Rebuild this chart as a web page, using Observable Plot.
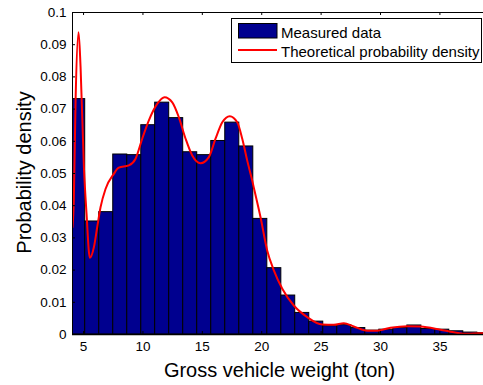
<!DOCTYPE html>
<html>
<head>
<meta charset="utf-8">
<script src="https://cdn.jsdelivr.net/npm/d3@7"></script>
<script src="https://cdn.jsdelivr.net/npm/@observablehq/plot@0.6"></script>
<style>
  html, body { margin: 0; padding: 0; background: #fff; }
  #chart svg { display: block; }
</style>
</head>
<body>
<div id="chart"></div>
<script>
// Histogram bin edges (ton) — 30 bins
const binEdges = [3.96, 5.14, 6.32, 7.50, 8.68, 9.86, 11.03, 12.21, 13.39, 14.57, 15.75,
  16.93, 18.11, 19.29, 20.47, 21.65, 22.82, 24.00, 25.18, 26.36, 27.54, 28.72, 29.90,
  31.08, 32.26, 33.44, 34.61, 35.79, 36.97, 38.15, 39.33];
// Measured probability density per bin
const measuredDensity = [0.0731, 0.0351, 0.0380, 0.0559, 0.0557, 0.0650, 0.0720, 0.0672,
  0.0566, 0.0557, 0.0601, 0.0658, 0.0584, 0.0359, 0.0206, 0.0121, 0.0067, 0.0040, 0.0026,
  0.0029, 0.0020, 0.0012, 0.0015, 0.0020, 0.0028, 0.0017, 0.0015, 0.0010, 0.0006, 0.0004];
// Theoretical probability density curve
const curveX = [4.07, 4.18, 4.33, 4.58, 4.75, 5.03, 5.25, 5.53, 5.87, 6.15, 6.43, 6.85, 7.55,
  7.97, 8.81, 9.38, 9.94, 10.50, 11.20, 11.82, 12.47, 13.02, 13.59, 14.15, 14.85, 15.55,
  16.11, 16.68, 17.31, 17.94, 18.36, 18.78, 19.20, 19.39, 19.90, 20.46, 21.02, 21.73, 22.70,
  23.83, 25.09, 26.07, 26.91, 27.75, 28.88, 29.72, 30.84, 32.25, 33.37, 35.05, 36.17, 37.30, 38.42, 38.70];
const curveY = [0.0333, 0.0416, 0.0727, 0.0939, 0.0830, 0.0520, 0.0376, 0.0238, 0.0271, 0.0333,
  0.0395, 0.0452, 0.0499, 0.0518, 0.0525, 0.0546, 0.0608, 0.0665, 0.0716, 0.0737, 0.0721,
  0.0675, 0.0608, 0.0556, 0.0532, 0.0551, 0.0608, 0.0659, 0.0678, 0.0659, 0.0608, 0.0540,
  0.0478, 0.0447, 0.0364, 0.0261, 0.0199, 0.0142, 0.0090, 0.0054, 0.0031, 0.0030, 0.0035,
  0.0025, 0.0012, 0.0012, 0.0021, 0.0026, 0.0025, 0.0015, 0.0007, 0.0002, 0.0004, 0.0004];
const xTicks = [5, 10, 15, 20, 25, 30, 35];
const yTicks = [0, 0.01, 0.02, 0.03, 0.04, 0.05, 0.06, 0.07, 0.08, 0.09, 0.1];
const yTickLabels = ["0", "0.01", "0.02", "0.03", "0.04", "0.05", "0.06", "0.07", "0.08", "0.09", "0.1"];
const xDomain = [4.07, 38.67];
const yDomain = [0, 0.1];
const xLabel = "Gross vehicle weight (ton)";
const yLabel = "Probability density";
const legendLabels = ["Measured data", "Theoretical probability density"];

const bars = measuredDensity.map((d, i) => ({x1: binEdges[i], x2: binEdges[i + 1], y: d}));
const curve = curveX.map((x, i) => ({x, y: curveY[i]}));

const W = 483, H = 385;
const mL = 72, mT = 12, mB = 51, mR = 0;
const frameW = W - mL - mR, frameH = H - mT - mB;
const FONT = "'Liberation Sans', Arial, Helvetica, sans-serif";
const NAVY = "#00008f";

const chart = Plot.plot({
  width: W, height: H,
  marginLeft: mL, marginTop: mT, marginBottom: mB, marginRight: mR,
  style: {fontFamily: FONT, color: "#000", background: "#fff"},
  x: {domain: xDomain},
  y: {domain: yDomain},
  marks: [
    Plot.rectY(bars, {x1: "x1", x2: "x2", y: "y", fill: NAVY, stroke: "#000", strokeWidth: 1, clip: true}),
    Plot.line(curve, {x: "x", y: "y", stroke: "#ff0000", strokeWidth: 2, curve: "monotone-x", clip: true}),
    // frame lines (top, bottom, left)
    Plot.ruleY([yDomain[1]], {stroke: "#000", strokeWidth: 1}),
    Plot.ruleY([yDomain[0]], {stroke: "#000", strokeWidth: 1.5}),
    Plot.ruleX([xDomain[0]], {stroke: "#000", strokeWidth: 1}),
    // inward tick marks
    Plot.ruleX(xTicks, {x: d => d, insetBottom: frameH - 3, stroke: "#000"}),
    Plot.ruleX(xTicks, {x: d => d, insetTop: frameH - 3, stroke: "#000"}),
    Plot.ruleY(yTicks, {y: d => d, insetRight: frameW - 3, stroke: "#000"}),
    Plot.axisX({ticks: xTicks, tickSize: 0, tickPadding: 7, fontSize: 13.5, label: null, tickFormat: d => String(d)}),
    Plot.axisY({ticks: yTicks, tickSize: 0, tickPadding: 6, fontSize: 13.5, label: null,
      tickFormat: (d) => yTickLabels[yTicks.indexOf(d)]}),
    Plot.text([xLabel], {frameAnchor: "bottom", lineAnchor: "middle", textAnchor: "middle",
      dy: 35.6, dx: 1.5, fontSize: 20, fill: "#000"}),
    Plot.text([yLabel], {frameAnchor: "left", lineAnchor: "middle", textAnchor: "middle",
      rotate: -90, dx: -48.4, dy: -1, fontSize: 20, fill: "#000"})
  ]
});

// Legend (inside the axes, top right)
const svg = d3.select(chart);
const lg = svg.append("g").attr("font-family", FONT).attr("font-size", 15).attr("text-anchor", "start");
lg.append("rect").attr("x", 231.5).attr("y", 18.5).attr("width", 250).attr("height", 44)
  .attr("fill", "#fff").attr("stroke", "#000").attr("stroke-width", 1);
lg.append("rect").attr("x", 238.5).attr("y", 23.5).attr("width", 38.5).attr("height", 14.5)
  .attr("fill", NAVY).attr("stroke", "#000").attr("stroke-width", 1);
lg.append("text").attr("x", 281).attr("y", 38).attr("fill", "#000").attr("text-anchor", "start").text(legendLabels[0]);
lg.append("line").attr("x1", 238).attr("x2", 277).attr("y1", 50).attr("y2", 50)
  .attr("stroke", "#ff0000").attr("stroke-width", 2);
lg.append("text").attr("x", 281).attr("y", 57).attr("fill", "#000").attr("text-anchor", "start").text(legendLabels[1]);

document.getElementById("chart").appendChild(chart);
</script>
</body>
</html>
